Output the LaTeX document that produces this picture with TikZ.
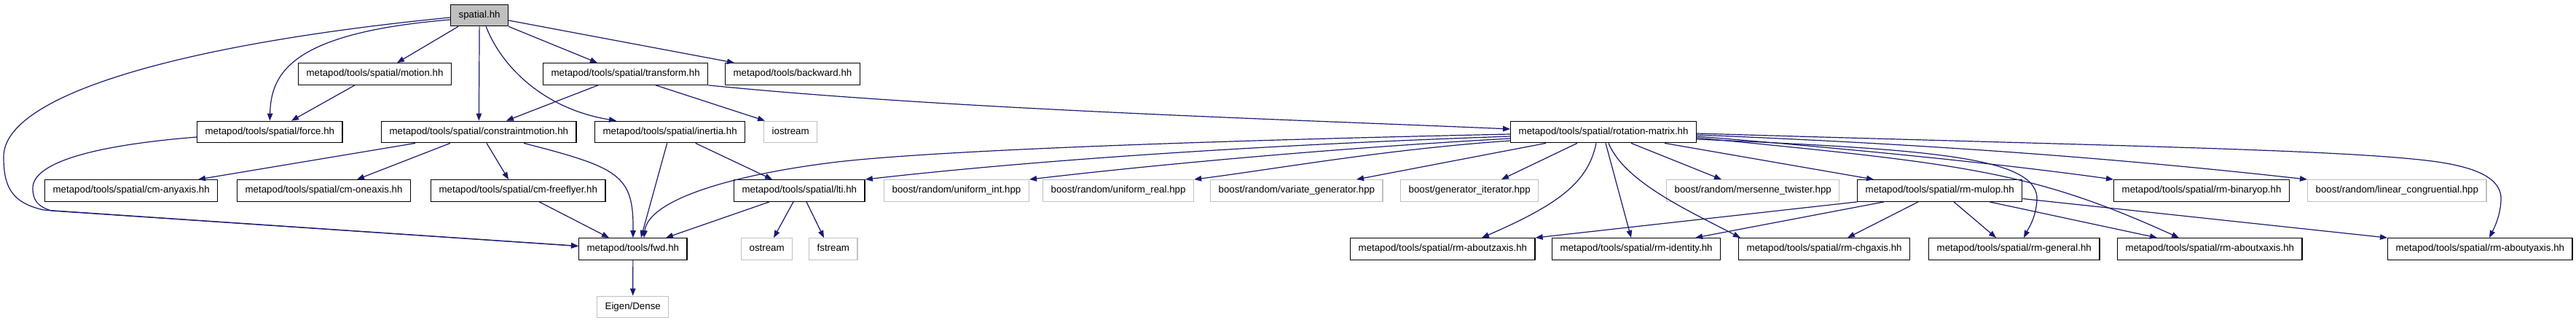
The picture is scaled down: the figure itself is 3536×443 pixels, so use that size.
\documentclass[tikz,border=0pt]{standalone}
\usepackage{fontspec}
\setmainfont{Liberation Sans}
\usetikzlibrary{arrows.meta}
\definecolor{edgeblue}{HTML}{191970}
\definecolor{sysgray}{HTML}{C0C0C0}
\definecolor{rootfill}{HTML}{BFBFBF}
\tikzset{
  box/.style={draw=black, line width=1.3pt, anchor=west, minimum height=29.5pt,
    inner xsep=11pt, inner ysep=0pt, text height=9.6pt, text depth=2.8pt,
    font=\fontsize{13.3pt}{16pt}\selectfont},
  sysbox/.style={box, draw=sysgray},
  dep/.style={draw=edgeblue, line width=1.2pt, -{Triangle[length=10pt,width=7.5pt]}}
}
\begin{document}
\begin{tikzpicture}[x=1pt,y=-1pt]
\useasboundingbox (0,0) rectangle (3536,443);
% row 0
\node[box, fill=rootfill] (spatial) at (618,21) {spatial.hh};
% row 1
\node[box] (motion) at (409,101.5) {metapod/tools/spatial/motion.hh};
\node[box] (transform) at (745,101.5) {metapod/tools/spatial/transform.hh};
\node[box] (backward) at (995,101.5) {metapod/tools/backward.hh};
% row 2
\node[box] (force) at (270,181) {metapod/tools/spatial/force.hh};
\node[box] (cmotion) at (523,181) {metapod/tools/spatial/constraintmotion.hh};
\node[box] (inertia) at (816,181) {metapod/tools/spatial/inertia.hh};
\node[sysbox] (iostream) at (1048,181) {iostream};
\node[box] (rot) at (2073,181) {metapod/tools/spatial/rotation-matrix.hh};
% row 3
\node[box] (cmany) at (61,261.5) {metapod/tools/spatial/cm-anyaxis.hh};
\node[box] (cmone) at (325,261.5) {metapod/tools/spatial/cm-oneaxis.hh};
\node[box] (cmff) at (591,261.5) {metapod/tools/spatial/cm-freeflyer.hh};
\node[box] (lti) at (1007,261.5) {metapod/tools/spatial/lti.hh};
\node[sysbox] (uint) at (1213,261.5) {boost/random/uniform\_int.hpp};
\node[sysbox] (ureal) at (1431,261.5) {boost/random/uniform\_real.hpp};
\node[sysbox] (vargen) at (1661,261.5) {boost/random/variate\_generator.hpp};
\node[sysbox] (geniter) at (1922,261.5) {boost/generator\_iterator.hpp};
\node[sysbox] (mt) at (2287,261.5) {boost/random/mersenne\_twister.hpp};
\node[box] (mulop) at (2549,261.5) {metapod/tools/spatial/rm-mulop.hh};
\node[box] (binop) at (2901,261.5) {metapod/tools/spatial/rm-binaryop.hh};
\node[sysbox] (lincong) at (3167,261.5) {boost/random/linear\_congruential.hpp};
% row 4
\node[box] (fwd) at (794,341.5) {metapod/tools/fwd.hh};
\node[sysbox] (ostream) at (1017,341.5) {ostream};
\node[sysbox] (fstream) at (1110,341.5) {fstream};
\node[box] (aboutz) at (1853,341.5) {metapod/tools/spatial/rm-aboutzaxis.hh};
\node[box] (ident) at (2130,341.5) {metapod/tools/spatial/rm-identity.hh};
\node[box] (chg) at (2386,341.5) {metapod/tools/spatial/rm-chgaxis.hh};
\node[box] (general) at (2647,341.5) {metapod/tools/spatial/rm-general.hh};
\node[box] (aboutx) at (2906,341.5) {metapod/tools/spatial/rm-aboutxaxis.hh};
\node[box] (abouty) at (3277,341.5) {metapod/tools/spatial/rm-aboutyaxis.hh};
% row 5
\node[sysbox] (eigen) at (819,421) {Eigen/Dense};

% spatial.hh
\draw[dep] ([xshift=11pt]spatial.south west) -- ([xshift=136pt]motion.north west);
\draw[dep] ([yshift=-6pt]spatial.west) .. controls (400,45) and (372,100) .. (force.north);
\draw[dep] ([yshift=-3pt]spatial.west) .. controls (250,60) and (5,130) .. (5,215)
   .. controls (5,255) and (15,278) .. (60,288) -- ([yshift=4pt]fwd.west);
\draw[dep] (spatial.south) -- (cmotion.north);
\draw[dep] ([xshift=9pt]spatial.south) .. controls (690,95) and (750,150) .. ([xshift=30pt]inertia.north west);
\draw[dep] (spatial.south east) -- ([xshift=75pt]transform.north west);
\draw[dep] ([yshift=-7pt]spatial.east) -- ([xshift=13pt]backward.north west);
% motion, transform
\draw[dep] ([xshift=78pt]motion.south west) -- ([xshift=130pt]force.north west);
\draw[dep] ([xshift=76pt]transform.south west) -- ([xshift=172pt]cmotion.north west);
\draw[dep] ([xshift=155pt]transform.south west) -- ([xshift=2pt]iostream.north west);
\draw[dep] (transform.south east) .. controls (1300,150) and (1800,165) .. ([yshift=4pt]rot.west);
% force
\draw[dep] ([yshift=-7pt]force.west) .. controls (120,200) and (45,225) .. (45,258)
   .. controls (45,275) and (52,283) .. (70,289) -- ([yshift=4pt]fwd.west);
% constraintmotion
\draw[dep] ([xshift=47pt]cmotion.south west) -- ([xshift=211pt]cmany.north west);
\draw[dep] ([xshift=95pt]cmotion.south west) -- ([xshift=165pt]cmone.north west);
\draw[dep] ([xshift=145pt]cmotion.south west) -- ([xshift=107pt]cmff.north west);
\draw[dep] ([xshift=196pt]cmotion.south west) .. controls (850,230) and (870,240) .. (fwd.north);
% inertia
\draw[dep] ([xshift=-4pt]inertia.south) -- ([xshift=11pt]fwd.north);
\draw[dep] ([xshift=35pt]inertia.south) -- ([xshift=53pt]lti.north west);
% cm-freeflyer, lti, fwd
\draw[dep] ([xshift=29pt]cmff.south) -- ([xshift=42pt]fwd.north west);
\draw[dep] ([xshift=49pt]lti.south west) -- ([xshift=120pt]fwd.north west);
\draw[dep] ([xshift=82pt]lti.south west) -- ([xshift=45pt]ostream.north west);
\draw[dep] ([xshift=100pt]lti.south west) -- ([xshift=21pt]fstream.north west);
\draw[dep] (fwd.south) -- (eigen.north);
% rotation-matrix, left side
\draw[dep] ([yshift=-3pt]rot.west) .. controls (1700,192) and (1300,205) .. (1150,222)
   .. controls (1000,240) and (890,275) .. ([xshift=15pt]fwd.north);
\draw[dep] ([yshift=-6pt]rot.west) .. controls (1700,200) and (1400,222) .. (lti.north east);
\draw[dep] ([yshift=-9pt]rot.west) .. controls (1800,205) and (1550,230) .. (uint.north east);
\draw[dep] ([yshift=-12pt]rot.west) .. controls (1900,205) and (1750,232) .. (ureal.north east);
\draw[dep] ([xshift=49pt]rot.south west) -- ([xshift=201pt]vargen.north west);
\draw[dep] ([xshift=92pt]rot.south west) -- ([xshift=139pt]geniter.north west);
% rotation-matrix, bottom
\draw[dep] ([xshift=118pt]rot.south west) .. controls (2180,250) and (2140,280) .. ([xshift=181pt]aboutz.north west);
\draw[dep] ([xshift=131pt]rot.south west) -- ([xshift=109pt]ident.north west);
\draw[dep] ([xshift=135pt]rot.south west) .. controls (2230,250) and (2320,290) .. ([xshift=3pt]chg.north west);
\draw[dep] ([xshift=166pt]rot.south west) -- ([xshift=76pt]mt.north west);
\draw[dep] ([xshift=212pt]rot.south west) -- ([xshift=23pt]mulop.north west);
% rotation-matrix, right side
\draw[dep] ([yshift=-2pt]rot.east) .. controls (2900,200) and (3200,205) .. (3330,220)
   .. controls (3400,228) and (3435,245) .. (3433,275)
   .. controls (3432,295) and (3425,310) .. ([xshift=140pt]abouty.north west);
\draw[dep] ([yshift=-4pt]rot.east) .. controls (2700,200) and (2950,222) .. (lincong.north west);
\draw[dep] ([yshift=-6pt]rot.east) .. controls (2550,205) and (2750,225) .. (binop.north west);
\draw[dep] ([yshift=-8pt]rot.east) .. controls (2700,225) and (2790,235) .. ([xshift=85pt]aboutx.north west);
\draw[dep] ([yshift=-10pt]rot.east) .. controls (2650,205) and (2800,215) .. (2796,275)
   .. controls (2794,300) and (2785,312) .. ([xshift=131pt]general.north west);
% rm-mulop
\draw[dep] (mulop.south west) -- (aboutz.north east);
\draw[dep] ([xshift=37pt]mulop.south west) -- ([xshift=197pt]ident.north west);
\draw[dep] ([xshift=84pt]mulop.south west) -- ([xshift=150pt]chg.north west);
\draw[dep] ([xshift=133pt]mulop.south west) -- ([xshift=93pt]general.north west);
\draw[dep] ([xshift=182pt]mulop.south west) -- ([xshift=55pt]aboutx.north west);
\draw[dep] ([yshift=-11pt]mulop.east) -- (abouty.north west);
\end{tikzpicture}
\end{document}
